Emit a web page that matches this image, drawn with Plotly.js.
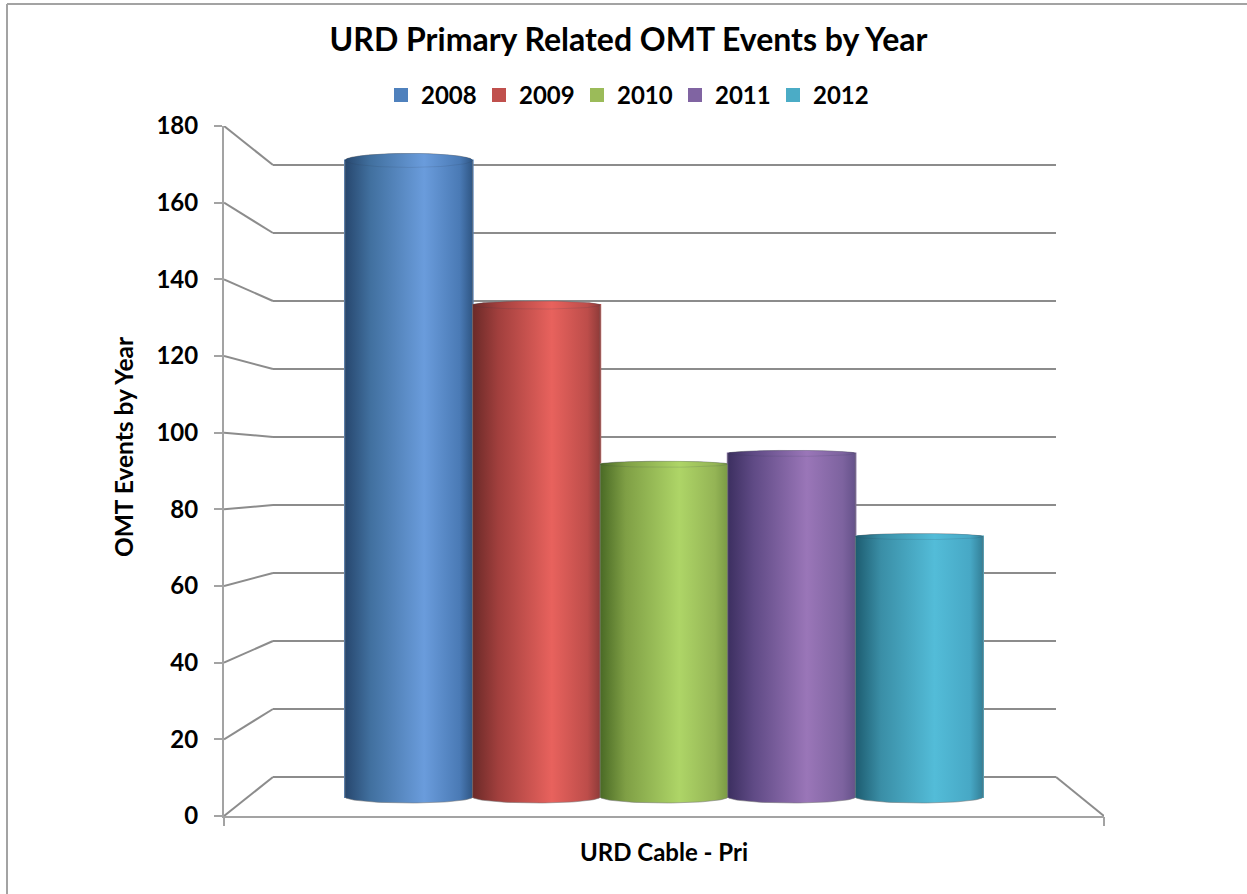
<!DOCTYPE html>
<html>
<head>
<meta charset="utf-8">
<script src="https://cdn.plot.ly/plotly-3.0.1.min.js"></script>
<style>
html,body{margin:0;padding:0;background:#fff}
#chart{width:1247px;height:894px}
.legend .scrollbox{clip-path:none !important}
</style>
</head>
<body>
<div id="chart"></div>
<script>
// ---- data ----
const categories = ['URD Cable - Pri'];
const years = ['2008', '2009', '2010', '2011', '2012'];
const values2008 = [176];
const values2009 = [136];
const values2010 = [92];
const values2011 = [95];
const values2012 = [72];
const yTicks = [0, 20, 40, 60, 80, 100, 120, 140, 160, 180];

// ---- style ----
const seriesValues = [values2008, values2009, values2010, values2011, values2012];
const legendColors = ['#4f81bd', '#c0504d', '#9bbb59', '#8064a2', '#4bacc6'];
const shades = [
  ['#27476e', '#41709f', '#6a9cdc', '#4a7ab5', '#2f5684'],
  ['#6b2a28', '#a13f3d', '#e8625d', '#bd4d4a', '#8e3b39'],
  ['#4a6a25', '#7f9f45', '#aed567', '#94b455', '#7a9a45'],
  ['#3c2f60', '#5f4a85', '#9a76b8', '#7d639f', '#65528a'],
  ['#1d5c70', '#3a8ea6', '#53bcd8', '#47a8c5', '#337f97']
];
const shadeStops = [0, 0.2, 0.62, 0.9, 1];
const capRise = [7, 4, 3, 3, 3];
const FONT = 'Lato, "Open Sans", sans-serif';
const GRID = '#8c8c8c', AXIS = '#a3a3a3';

// ---- geometry of the pseudo-3D box (pixels on the page) ----
const L = 224, R = 1104, T = 126, B = 816;
const W = R - L, H = B - T;
const backL = 273, backR = 1056, backZero = 777, backScale = 3.4;
const midZero = 797, midScale = 3.617, frontScale = H / 180;
const barGap = 1 - 638 / W;
const barW = (1 - barGap) / years.length;
const dipBottom = 6;
const titleCentre = 447, titleSpan = 320;   // pixels: where the y title sits

const backDomLo = (B - (backZero + backScale)) / H;
const backDomHi = (B - (backZero - 181 * backScale)) / H;

const traces = [];
// keep the back wall subplot alive
traces.push({type: 'scatter', x: [0], y: [0], xaxis: 'x', yaxis: 'y', mode: 'none', showlegend: false, hoverinfo: 'skip'});

years.forEach((yr, i) => {
  traces.push({
    type: 'bar', name: yr, x: [0], y: seriesValues[i], xaxis: 'x2', yaxis: 'y2',
    marker: {color: legendColors[i], line: {width: 2, color: legendColors[i]}}, hoverinfo: 'skip'
  });
});

function gradient(i, x0, x1) {
  return {
    type: 'horizontal', start: x0, stop: x1,
    colorscale: shadeStops.map((s, k) => [s, shades[i][k]])
  };
}
const STEPS = 48;
years.forEach((yr, i) => {
  const v = seriesValues[i][0];
  const cx = (i - (years.length - 1) / 2) * barW;
  const x0 = cx - barW / 2, x1 = cx + barW / 2;
  const rise = capRise[i] / midScale, dip = dipBottom / midScale;
  const bx = [], by = [], cxs = [], cys = [];
  for (let k = 0; k <= STEPS; k++) {            // top edge, left to right
    const a = Math.PI - Math.PI * k / STEPS;
    bx.push(cx + barW / 2 * Math.cos(a)); by.push(v + rise * Math.sin(a));
  }
  for (let k = 0; k <= STEPS; k++) {            // bottom edge, right to left
    const a = Math.PI * k / STEPS;
    bx.push(cx + barW / 2 * Math.cos(a)); by.push(-dip * Math.sin(a));
  }
  bx.push(bx[0]); by.push(by[0]);
  for (let k = 0; k <= 2 * STEPS; k++) {
    const a = Math.PI * k / STEPS;
    cxs.push(cx + barW / 2 * Math.cos(a)); cys.push(v + rise * Math.sin(a));
  }
  traces.push({
    type: 'scatter', mode: 'lines', x: bx, y: by, xaxis: 'x2', yaxis: 'y2', fill: 'toself',
    fillgradient: gradient(i, x0, x1), line: {color: 'rgba(120,120,120,0.55)', width: 1},
    showlegend: false, hoverinfo: 'skip', cliponaxis: false
  });
  traces.push({
    type: 'scatter', mode: 'lines', x: cxs, y: cys, xaxis: 'x2', yaxis: 'y2', fill: 'toself',
    fillgradient: gradient(i, x0, x1), line: {color: 'rgba(40,60,80,0.14)', width: 1},
    showlegend: false, hoverinfo: 'skip', cliponaxis: false
  });
});

// diagonal wall and floor edges, joining the front axis to the back wall
const frontEq = v => (B - (backZero - v * backScale)) / frontScale;
const connX = [], connY = [];
yTicks.forEach(v => {
  connX.push(-0.5, -0.5 + (backL - L) / W, null);
  connY.push(v, frontEq(v), null);
});
connX.push(0.5, -0.5 + (backR - L) / W, null);
connY.push(0, frontEq(0), null);
traces.push({
  type: 'scatter', mode: 'lines', x: connX, y: connY, xaxis: 'x3', yaxis: 'y3',
  line: {color: GRID, width: 2}, showlegend: false, hoverinfo: 'skip', cliponaxis: false
});
// carrier for the y title, which sits off-centre from the front axis
traces.push({type: 'scatter', x: [0], y: [0], xaxis: 'x3', yaxis: 'y4', mode: 'none', showlegend: false, hoverinfo: 'skip'});

const boldFont = size => ({family: FONT, size: size, color: '#000', weight: 700});

const layout = {
  width: 1247, height: 894,
  margin: {l: L, r: 1247 - R, t: T, b: 894 - B, pad: 0},
  paper_bgcolor: '#fff', plot_bgcolor: 'rgba(0,0,0,0)',
  barmode: 'group', bargap: barGap, bargroupgap: 0,
  title: {
    text: '<b>URD Primary Related OMT Events by Year</b>',
    font: boldFont(32), x: 628.5 / 1247, xanchor: 'center', y: 1 - 40 / 894, yanchor: 'middle'
  },
  legend: {
    orientation: 'h', x: (381 - L) / W, xanchor: 'left', y: (B - 73) / H, yanchor: 'top',
    font: boldFont(24), traceorder: 'normal', entrywidth: 53, entrywidthmode: 'pixels',
    bgcolor: 'rgba(0,0,0,0)', itemclick: false, itemdoubleclick: false
  },
  // back wall
  xaxis: {domain: [(backL - L) / W, (backR - L) / W], range: [0, 1], visible: false, anchor: 'y', fixedrange: true},
  yaxis: {
    domain: [backDomLo, backDomHi], range: [-1, 181], tickmode: 'array', tickvals: yTicks,
    showticklabels: false, ticks: '', showline: false, zeroline: false,
    showgrid: true, gridcolor: GRID, gridwidth: 2, anchor: 'x', fixedrange: true
  },
  // bars
  xaxis2: {
    domain: [0, 1], range: [-0.5, 0.5], anchor: 'y2', showgrid: false, zeroline: false, showline: false,
    tickmode: 'array', tickvals: [-0.5, 0.5], showticklabels: false, ticks: 'outside', ticklen: 9,
    tickwidth: 2, tickcolor: AXIS, fixedrange: true
  },
  yaxis2: {
    domain: [0, 1], range: [(midZero - B) / midScale, (midZero - T) / midScale], visible: false,
    anchor: 'x2', fixedrange: true
  },
  // front axes
  xaxis3: {
    domain: [0, 1], range: [-0.5, 0.5], anchor: 'y3', showgrid: false, zeroline: false,
    showline: true, linecolor: AXIS, linewidth: 2, ticks: '',
    tickmode: 'array', tickvals: [0], ticktext: categories.map(c => '<b>' + c + '</b>'),
    tickfont: boldFont(24), ticklabelstandoff: 14, fixedrange: true
  },
  yaxis3: {
    domain: [0, 1], range: [0, 180], anchor: 'x3', showgrid: false, zeroline: false,
    showline: true, linecolor: AXIS, linewidth: 2,
    ticks: 'outside', ticklen: 8, tickwidth: 2, tickcolor: AXIS,
    tickmode: 'array', tickvals: yTicks, ticktext: yTicks.map(t => '<b>' + t + '</b>'),
    tickfont: boldFont(24), ticklabelstandoff: 11, fixedrange: true
  },
  yaxis4: {
    domain: [(B - titleCentre - titleSpan) / H, (B - titleCentre + titleSpan) / H],
    range: [0, 1], anchor: 'x3', showgrid: false, zeroline: false, showline: false,
    showticklabels: false, ticks: '', fixedrange: true,
    title: {text: '<b>OMT Events by Year</b>', font: boldFont(24.5), standoff: 82}
  },
  shapes: [
    {type: 'line', xref: 'paper', yref: 'paper', x0: (7 - L) / W, x1: (7 - L) / W, y0: (B - 894) / H, y1: (B - 4) / H, line: {color: '#a3a3a3', width: 2}},
    {type: 'line', xref: 'paper', yref: 'paper', x0: (7 - L) / W, x1: (1247 - L) / W, y0: (B - 4) / H, y1: (B - 4) / H, line: {color: '#a3a3a3', width: 2}}
  ]
};

Plotly.newPlot('chart', traces, layout, {displayModeBar: false, responsive: false});
</script>
</body>
</html>
